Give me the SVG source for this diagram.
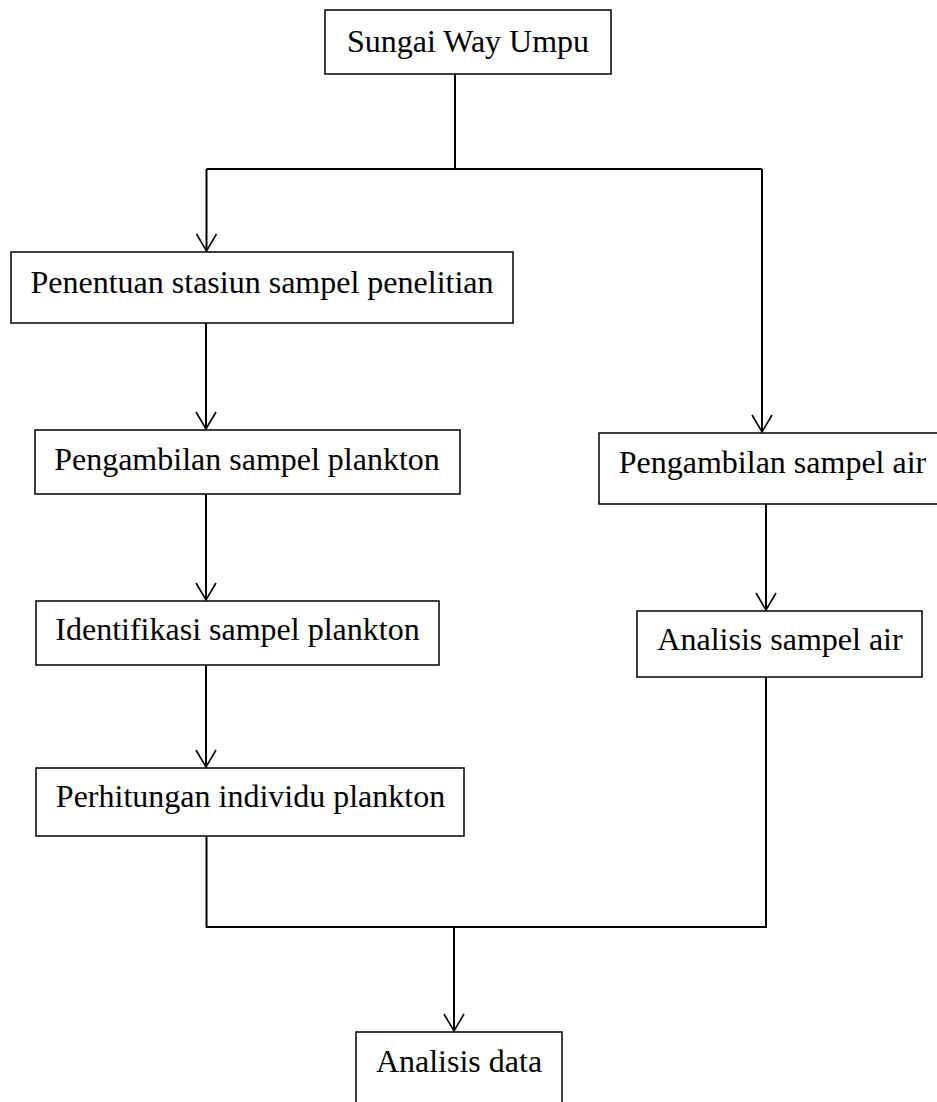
<svg xmlns="http://www.w3.org/2000/svg" width="937" height="1102" viewBox="0 0 937 1102">
<style>
.box{fill:#fff;stroke:#000;stroke-width:1.5}
.lbl{font-family:"Liberation Serif","Times New Roman",serif;font-size:32px;fill:#000;text-anchor:middle}
.con{fill:none;stroke:#000;stroke-width:2}
</style>
<defs>
<marker id="arr" markerUnits="userSpaceOnUse" markerWidth="20" markerHeight="20" refX="0" refY="0" orient="auto" overflow="visible">
<path d="M-17,-10 L0,0 L-17,10" fill="none" stroke="#000" stroke-width="1.6"/>
</marker>
</defs>
<rect width="937" height="1102" fill="#fff"/>
<g id="connectors">
<path class="con" d="M455,74 V169"/>
<path class="con" d="M206.5,169 H762"/>
<path class="con" d="M206.5,169 V251" marker-end="url(#arr)"/>
<path class="con" d="M762,169 V432" marker-end="url(#arr)"/>
<path class="con" d="M206,323 V429" marker-end="url(#arr)"/>
<path class="con" d="M206,494 V600" marker-end="url(#arr)"/>
<path class="con" d="M206,665 V767" marker-end="url(#arr)"/>
<path class="con" d="M766,504 V610" marker-end="url(#arr)"/>
<path class="con" d="M206.5,836 V927 H766 V677"/>
<path class="con" d="M454,927 V1031" marker-end="url(#arr)"/>
</g>
<g id="n1"><rect class="box" x="325" y="10" width="286" height="64"/><text class="lbl" x="468" y="52">Sungai Way Umpu</text></g>
<g id="n2"><rect class="box" x="11" y="252" width="502" height="71"/><text class="lbl" x="262" y="293">Penentuan stasiun sampel penelitian</text></g>
<g id="n3"><rect class="box" x="35" y="430" width="425" height="64"/><text class="lbl" x="247" y="470">Pengambilan sampel plankton</text></g>
<g id="n4"><rect class="box" x="36" y="601" width="403" height="64"/><text class="lbl" x="237.5" y="640">Identifikasi sampel plankton</text></g>
<g id="n5"><rect class="box" x="36" y="768" width="428" height="68"/><text class="lbl" x="250.5" y="807">Perhitungan individu plankton</text></g>
<g id="n6"><rect class="box" x="599" y="433" width="345" height="71"/><text class="lbl" x="772.5" y="473">Pengambilan sampel air</text></g>
<g id="n7"><rect class="box" x="637" y="611" width="285" height="66"/><text class="lbl" x="780" y="650">Analisis sampel air</text></g>
<g id="n8"><rect class="box" x="356" y="1032" width="206" height="80"/><text class="lbl" x="459" y="1072">Analisis data</text></g>
</svg>
